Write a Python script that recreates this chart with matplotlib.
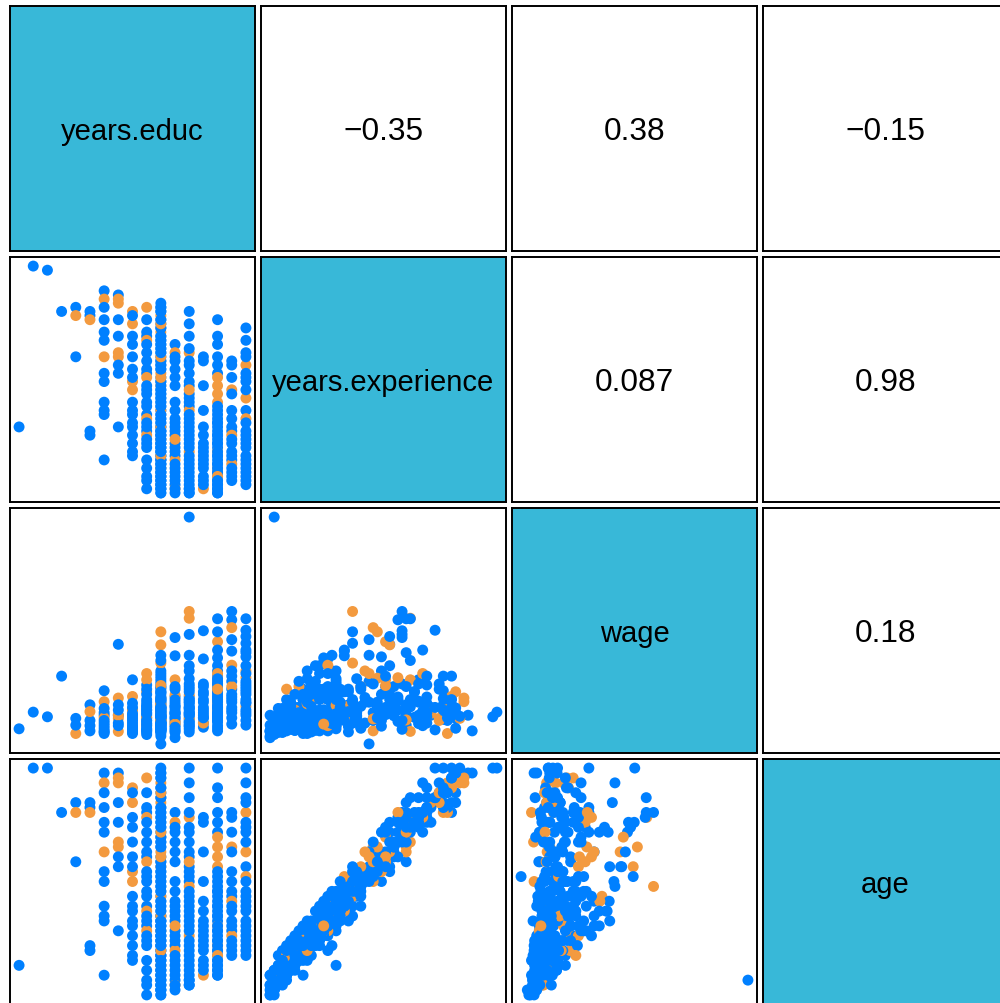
import numpy as np
import matplotlib
matplotlib.use('Agg')
import matplotlib.pyplot as plt

plt.rcParams['font.family'] = ['Liberation Sans', 'DejaVu Sans']

var_names = ['years.educ', 'years.experience', 'wage', 'age']
# upper panels: (row, col) -> printed correlation
corr_labels = {(0, 1): '\u22120.35', (0, 2): '0.38', (0, 3): '\u22120.15',
               (1, 2): '0.087', (1, 3): '0.98', (2, 3): '0.18'}

# one line per education level (2..18), then a second batch for the busy levels
educ = [2, 3, 4, 5,
        6, 6, 6,
        7, 7, 7, 7, 7,
        8, 8, 8, 8, 8, 8, 8, 8, 8, 8, 8, 8, 8,
        9, 9, 9, 9, 9, 9, 9, 9, 9, 9,
        10, 10, 10, 10, 10, 10, 10, 10, 10, 10, 10, 10, 10, 10, 10,
        11, 11, 11, 11, 11, 11, 11, 11, 11, 11, 11, 11, 11, 11, 11, 11, 11, 11, 11, 11, 11, 11, 11, 11,
        12, 12, 12, 12, 12, 12, 12, 12, 12, 12, 12, 12, 12, 12, 12, 12, 12, 12, 12, 12, 12, 12,
        12, 12, 12, 12, 12, 12, 12, 12, 12, 12, 12, 12, 12, 12, 12, 12, 12, 12, 12, 12, 12, 12,
        12, 12, 12, 12, 12, 12, 12, 12, 12, 12, 12, 12, 12, 12, 12, 12, 12, 12, 12, 12, 12, 12,
        13, 13, 13, 13, 13, 13, 13, 13, 13, 13, 13, 13, 13, 13, 13, 13, 13, 13, 13,
        14, 14, 14, 14, 14, 14, 14, 14, 14, 14, 14, 14, 14, 14, 14, 14, 14, 14, 14, 14, 14, 14, 14, 14,
        15, 15, 15, 15, 15, 15, 15, 15, 15, 15, 15, 15,
        16, 16, 16, 16, 16, 16, 16, 16, 16, 16, 16, 16, 16, 16, 16, 16, 16, 16, 16, 16, 16, 16, 16, 16, 16, 16, 16, 16, 16, 16,
        17, 17, 17, 17, 17, 17, 17, 17, 17, 17, 17, 17, 17, 17,
        18, 18, 18, 18, 18, 18, 18, 18, 18, 18, 18, 18, 18, 18, 18, 18, 18, 18, 18, 18,
        # second batch
        12, 12, 12, 12, 12, 12, 12, 12, 12, 12, 12, 12, 12, 12, 12, 12, 12, 12, 12, 12,
        12, 12, 12, 12, 12, 12, 12, 12, 12, 12, 12, 12, 12, 12, 12, 12, 12, 12, 12, 12,
        16, 16, 16, 16, 16, 16, 16, 16, 16, 16, 16, 16, 16, 16, 16,
        14, 14, 14, 14, 14, 14, 14, 14, 14, 14, 14, 14, 14, 14,
        13, 13, 13, 13, 13, 13, 13, 13, 13, 13,
        11, 11, 11, 11, 11, 11,
        17, 17, 17, 17, 17, 17,
        18, 18, 18, 18, 18, 18,
        15, 15, 15, 15, 15,
        10, 10, 10, 10]

exper = [16, 55, 54, 44,
         45, 43, 33,
         44, 43, 42, 15, 14,
         49, 47, 45, 42, 39, 37, 33, 29, 27, 22, 20, 19, 8,
         48, 47, 46, 42, 38, 34, 33, 31, 29, 16,
         44, 41, 38, 36, 33, 30, 27, 25, 20, 19, 16, 14, 12, 10, 9,
         45, 39, 38, 37, 36, 34, 30, 29, 28, 25, 24, 21, 19, 18, 17, 15, 14, 13, 12, 11, 8, 4, 3, 1,
         0, 1, 1, 2, 2, 3, 3, 4, 4, 5, 5, 6, 6, 7, 7, 8, 8, 9, 9, 10, 10, 11,
         11, 12, 12, 13, 13, 14, 14, 15, 15, 16, 16, 17, 18, 18, 19, 20, 20, 21, 22, 23, 24, 24,
         25, 26, 27, 28, 29, 30, 31, 32, 33, 34, 35, 36, 37, 38, 39, 40, 41, 42, 43, 44, 45, 46,
         36, 34, 32, 30, 28, 18, 17, 15, 14, 12, 11, 9, 8, 7, 5, 4, 2, 1, 0,
         44, 41, 34, 32, 31, 27, 26, 24, 23, 21, 20, 19, 18, 16, 15, 13, 12, 10, 7, 5, 4, 2, 1, 0,
         33, 32, 26, 14, 12, 11, 9, 8, 6, 4, 3, 1,
         42, 38, 33, 29, 28, 26, 22, 20, 19, 18, 17, 16, 15, 14, 13, 12, 11, 10, 10, 9, 8, 7, 6, 6, 5, 4, 3, 2, 1, 0,
         32, 31, 25, 24, 18, 16, 15, 14, 12, 10, 8, 7, 5, 3,
         40, 37, 34, 31, 29, 28, 27, 23, 20, 18, 15, 14, 12, 11, 9, 8, 6, 5, 3, 2,
         # second batch
         0, 2, 3, 5, 6, 8, 9, 10, 11, 13, 14, 16, 17, 19, 21, 22, 23, 25, 26, 27,
         28, 30, 31, 32, 33, 34, 35, 36, 37, 38, 40, 41, 42, 44, 45, 15, 12, 7, 4, 1,
         36, 31, 24, 21, 17, 14, 12, 9, 7, 5, 4, 3, 2, 1, 0,
         38, 35, 29, 25, 22, 17, 14, 11, 9, 8, 6, 3, 1, 0,
         33, 26, 22, 20, 16, 13, 10, 6, 3, 1,
         42, 32, 26, 22, 16, 6,
         28, 20, 13, 9, 6, 4,
         33, 25, 17, 13, 7, 4,
         20, 16, 10, 7, 2,
         43, 28, 22, 17]

wage = [3.9, 7.1, 6.2, 14.0,
        5.9, 3.0, 4.6,
        8.5, 5.5, 7.2, 4.5, 3.5,
        3.5, 9.1, 7.0, 11.2, 6.5, 4.5, 6.0, 7.8, 5.5, 4.0, 5.0, 3.3, 3.0,
        6.5, 9.8, 5.9, 8.5, 5.0, 3.4, 6.5, 7.5, 20.1, 4.5,
        10.1, 5.9, 8.8, 13.3, 6.5, 7.5, 7.5, 3.5, 5.5, 5.0, 4.5, 4.0, 3.5, 3.3, 3.0,
        11.0, 8.0, 12.3, 14.5, 6.5, 9.5, 7.0, 10.5, 13.3, 5.5, 9.0, 6.0, 8.5, 6.0, 11.5, 5.0, 4.5, 7.5, 4.5, 4.0, 3.8, 3.5, 3.2, 2.8,
        3.5, 4.0, 3.0, 5.0, 3.4, 4.5, 6.0, 3.8, 7.0, 5.5, 4.2, 6.5, 3.6, 4.8, 8.0, 5.2, 9.5, 6.2, 4.4, 7.5, 3.9, 5.8,
        10.0, 6.8, 4.6, 9.8, 5.4, 7.2, 12.0, 4.9, 8.5, 6.0, 15.0, 5.6, 11.0, 7.8, 4.3, 9.0, 16.5, 6.4, 8.2, 5.0, 1.0, 13.0,
        7.0, 22.5, 10.5, 6.6, 20.0, 8.8, 5.3, 12.5, 7.4, 17.0, 6.1, 9.2, 4.7, 14.0, 6.9, 8.0, 11.5, 5.7, 7.6, 9.5, 4.0, 6.3,
        9.0, 13.3, 21.4, 12.0, 7.5, 17.9, 8.0, 6.5, 10.0, 5.5, 7.0, 4.5, 10.4, 6.0, 3.8, 5.0, 3.2, 5.3, 2.2,
        8.0, 12.5, 25.1, 22.0, 10.0, 15.0, 6.5, 18.0, 9.0, 7.0, 26.4, 11.5, 5.5, 13.5, 8.5, 6.0, 16.0, 10.4, 7.5, 4.5, 9.5, 5.0, 44.5, 3.3,
        12.0, 22.7, 9.0, 17.3, 7.5, 10.5, 6.0, 11.0, 8.0, 5.0, 4.2, 5.0,
        14.0, 10.0, 25.0, 16.0, 20.6, 13.6, 12.0, 22.5, 11.0, 19.0, 8.5, 12.5, 15.0, 9.5, 17.5, 7.0, 13.0, 9.1, 10.5, 6.5, 11.5, 8.0, 7.5, 5.5, 9.0, 6.0, 7.2, 4.5, 5.2, 3.5,
        26.4, 24.8, 23.3, 21.0, 18.8, 13.0, 10.0, 16.1, 11.5, 8.0, 9.5, 12.0, 6.0, 4.8,
        22.8, 19.0, 25.0, 13.7, 21.6, 12.0, 17.7, 15.0, 20.3, 8.2, 11.0, 14.5, 9.5, 16.0, 7.5, 10.5, 6.5, 8.8, 5.5, 4.6,
        # second batch
        2.5, 6.8, 3.3, 7.8, 5.0, 4.1, 8.7, 11.8, 3.6, 6.6, 5.1, 8.4, 10.8, 7.2, 13.5, 4.6, 9.9, 5.8, 7.7, 4.4,
        12.2, 6.4, 9.3, 3.8, 5.6, 8.1, 11.0, 4.9, 7.3, 6.2, 3.7, 5.5, 9.7, 6.4, 7.9, 18.0, 14.5, 6.1, 5.2, 3.9,
        12.5, 9.5, 14.5, 8.0, 11.0, 6.8, 10.0, 13.5, 6.3, 8.2, 11.5, 5.6, 7.8, 4.0, 6.5,
        7.0, 11.0, 9.5, 5.8, 12.0, 8.0, 6.8, 5.2, 9.0, 4.2, 6.5, 7.8, 3.8, 4.6,
        8.5, 6.0, 11.5, 7.0, 9.5, 4.8, 8.2, 6.8, 4.2, 3.5,
        7.5, 5.5, 8.2, 4.8, 6.8, 3.6,
        14.0, 9.0, 7.5, 15.0, 10.5, 7.0,
        18.5, 12.5, 9.0, 11.5, 13.0, 7.0,
        9.5, 6.5, 12.5, 7.0, 6.0,
        6.0, 8.0, 4.2, 6.8]

age = [24, 64, 64, 55,
       57, 55, 45,
       57, 56, 55, 28, 27,
       63, 61, 59, 56, 53, 51, 47, 43, 41, 36, 34, 33, 22,
       63, 62, 61, 57, 53, 49, 48, 46, 44, 31,
       60, 57, 54, 52, 49, 46, 43, 41, 36, 35, 32, 30, 28, 26, 25,
       62, 56, 55, 54, 53, 51, 47, 46, 45, 42, 41, 38, 36, 35, 34, 32, 31, 30, 29, 28, 25, 21, 20, 18,
       18, 19, 19, 20, 20, 21, 21, 22, 22, 23, 23, 24, 24, 25, 25, 26, 26, 27, 27, 28, 28, 29,
       29, 30, 30, 31, 31, 32, 32, 33, 33, 34, 34, 35, 36, 36, 37, 38, 38, 39, 40, 41, 42, 42,
       43, 44, 45, 46, 47, 48, 49, 50, 51, 52, 53, 54, 55, 56, 57, 58, 59, 60, 61, 62, 63, 64,
       55, 53, 51, 49, 47, 37, 36, 34, 33, 31, 30, 28, 27, 26, 24, 23, 21, 20, 19,
       64, 61, 54, 52, 51, 47, 46, 44, 43, 41, 40, 39, 38, 36, 35, 33, 32, 30, 27, 25, 24, 22, 21, 20,
       54, 53, 47, 35, 33, 32, 30, 29, 27, 25, 24, 22,
       64, 60, 55, 51, 50, 48, 44, 42, 41, 40, 39, 38, 37, 36, 35, 34, 33, 32, 32, 31, 30, 29, 28, 28, 27, 26, 25, 24, 23, 22,
       55, 54, 48, 47, 41, 39, 38, 37, 35, 33, 31, 30, 28, 26,
       64, 61, 58, 55, 53, 52, 51, 47, 44, 42, 39, 38, 36, 35, 33, 32, 30, 29, 27, 26,
       # second batch
       18, 20, 21, 23, 24, 26, 27, 28, 29, 31, 32, 34, 35, 37, 39, 40, 41, 43, 44, 45,
       46, 48, 49, 50, 51, 52, 53, 54, 55, 56, 58, 59, 60, 62, 63, 33, 30, 25, 22, 19,
       58, 53, 46, 43, 39, 36, 34, 31, 29, 27, 26, 25, 24, 23, 22,
       58, 55, 49, 45, 42, 37, 34, 31, 29, 28, 26, 23, 21, 20,
       52, 45, 41, 39, 35, 32, 29, 25, 22, 20,
       59, 49, 43, 39, 33, 23,
       51, 43, 36, 32, 29, 27,
       57, 49, 41, 37, 31, 28,
       41, 37, 31, 28, 23,
       59, 44, 38, 33]

# 1 = orange group, 0 = blue group
group = [0, 0, 0, 0,
         0, 1, 0,
         0, 0, 1, 0, 0,
         0, 1, 0, 0, 0, 0, 1, 0, 0, 0, 0, 0, 0,
         0, 1, 1, 0, 0, 1, 1, 0, 0, 0,
         1, 1, 0, 0, 0, 0, 1, 1, 0, 0, 0, 0, 0, 0, 0,
         1, 0, 0, 1, 0, 0, 0, 0, 1, 0, 0, 0, 0, 1, 0, 0, 1, 0, 0, 0, 0, 0, 0, 0,
         0, 0, 0, 0, 0, 0, 0, 0, 0, 0, 0, 1, 0, 0, 0, 0, 0, 0, 0, 0, 0, 0,
         0, 0, 0, 1, 0, 0, 0, 0, 0, 0, 0, 0, 0, 0, 0, 0, 1, 0, 0, 0, 0, 0,
         0, 1, 0, 0, 1, 0, 0, 0, 0, 0, 0, 0, 0, 0, 1, 0, 0, 0, 1, 0, 0, 0,
         0, 1, 0, 0, 0, 0, 0, 0, 0, 0, 0, 0, 1, 0, 0, 0, 0, 1, 0,
         0, 0, 1, 0, 0, 0, 0, 0, 0, 0, 1, 0, 0, 0, 0, 0, 0, 1, 0, 0, 0, 0, 0, 0,
         0, 0, 0, 0, 0, 0, 0, 0, 0, 0, 0, 1,
         0, 0, 0, 0, 1, 1, 1, 0, 0, 0, 0, 0, 0, 0, 0, 0, 0, 1, 0, 0, 0, 0, 1, 0, 0, 0, 0, 0, 0, 0,
         0, 0, 1, 0, 0, 0, 0, 1, 0, 0, 0, 1, 0, 0,
         0, 0, 0, 1, 0, 0, 0, 1, 0, 1, 0, 0, 0, 0, 0, 0, 0, 0, 0, 0,
         # second batch
         0, 0, 0, 0, 0, 0, 1, 0, 0, 0, 0, 1, 0, 0, 0, 0, 0, 0, 0, 0,
         1, 0, 0, 0, 1, 0, 0, 0, 0, 0, 0, 1, 0, 0, 0, 0, 0, 0, 0, 0,
         0, 0, 1, 0, 0, 0, 0, 0, 0, 0, 1, 0, 0, 0, 0,
         0, 0, 0, 1, 0, 0, 0, 0, 0, 0, 0, 0, 0, 0,
         0, 0, 0, 0, 0, 1, 0, 0, 0, 0,
         0, 0, 0, 0, 0, 0,
         0, 0, 0, 0, 0, 0,
         0, 0, 0, 0, 0, 0,
         0, 0, 0, 0, 0,
         0, 0, 0, 0]

blue, orange, diag_fill = '#0080FF', '#F39A3F', '#38B8D8'

cols = [np.array(v, dtype=float) for v in (educ, exper, wage, age)]
grp = np.array(group)
assert all(len(v) == len(grp) for v in cols)
colors = np.where(grp == 1, orange, blue)

def pad_lim(v):
    r = v.max() - v.min()
    return v.min() - 0.04 * r, v.max() + 0.04 * r

lims = [pad_lim(v) for v in cols]

W, H = 1000, 1004
fig = plt.figure(figsize=(W / 100, H / 100), dpi=100)
for r in range(4):
    for c in range(4):
        left = (10 + 251 * c) / W
        top = (7 + 251 * r) / H
        ax = fig.add_axes([left, 1 - top - 245 / H, 245 / W, 245 / H])
        ax.set_xticks([])
        ax.set_yticks([])
        for sp in ax.spines.values():
            sp.set_linewidth(1.4)
        if r == c:
            ax.set_facecolor(diag_fill)
            ax.text(0.5, 0.488, var_names[r], ha='center', va='center',
                    fontsize=21, transform=ax.transAxes)
        elif c > r:
            ax.text(0.5, 0.488, corr_labels[(r, c)], ha='center', va='center',
                    fontsize=22.8, transform=ax.transAxes)
        else:
            ax.scatter(cols[c], cols[r], s=62, c=colors, linewidths=0)
            ax.set_xlim(lims[c])
            ax.set_ylim(lims[r])

fig.savefig('out.png', dpi=100)
